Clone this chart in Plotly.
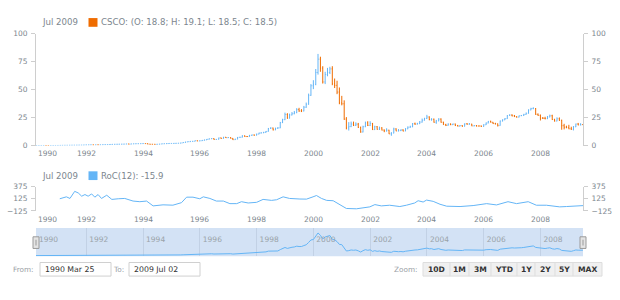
import pandas as pd
import plotly.graph_objects as go

# ---------------- data ----------------
dates = pd.date_range("1990-03-01", "2009-07-01", freq="MS")

opens = [
    0.07, 0.08, 0.09, 0.10, 0.11, 0.12, 0.10, 0.09, 0.10, 0.12,
    0.13, 0.15, 0.20, 0.25, 0.27, 0.30, 0.33, 0.36, 0.38, 0.40, 0.44, 0.46,
    0.55, 0.62, 0.66, 0.70, 0.65, 0.72, 0.70, 0.78, 0.85, 0.90, 0.95, 1.05,
    1.15, 1.20, 1.25, 1.30, 1.35, 1.40, 1.50, 1.35, 1.55, 1.65, 1.70, 1.75,
    1.80, 1.85, 1.80, 1.35, 1.25, 1.20, 1.15, 1.25, 1.45, 1.60, 1.75, 1.85,
    1.95, 1.95, 2.05, 2.10, 2.20, 2.40, 2.80, 3.30, 3.50, 3.80, 3.90, 4.40,
    4.15, 4.30, 4.70, 5.10, 5.70, 6.10, 6.30, 5.50, 5.60, 6.90, 6.40, 7.50,
    7.07, 7.20, 6.50, 5.30, 5.80, 7.40, 7.45, 8.80, 8.10, 8.10, 9.10, 9.50,
    9.30, 10.3, 11.2, 11.4, 11.8, 12.7, 15.3, 15.7, 14.1, 15.5, 15.8, 20.5,
    23.2, 27.8, 24.6, 27.4, 28.5, 29.5, 32.2, 31.0, 31.0, 34.3, 37.0, 45.0,
    53.5, 54.8, 65.4, 77.3, 69.3, 56.9, 63.6, 65.4, 68.6, 55.3, 53.9, 47.9,
    38.2, 37.4, 23.7, 15.8, 17.0, 19.3, 18.2, 19.2, 16.3, 12.2, 16.9, 20.3,
    18.1, 19.8, 14.3, 16.9, 14.6, 15.8, 13.9, 13.2, 13.8, 10.5, 11.2, 14.9,
    13.1, 13.4, 14.0, 13.0, 15.0, 16.4, 16.8, 19.5, 19.2, 19.6, 21.0, 22.7,
    24.2, 25.6, 23.2, 23.6, 20.9, 22.1, 23.7, 20.9, 18.8, 18.1, 19.2, 18.7,
    19.3, 17.9, 17.4, 17.9, 17.3, 19.4, 19.1, 19.2, 17.6, 17.9, 17.5, 17.5,
    17.1, 18.6, 20.2, 21.7, 20.9, 19.7, 19.5, 17.9, 22.0, 23.0, 24.1, 26.9,
    27.3, 26.6, 25.9, 25.5, 26.7, 26.9, 27.9, 28.9, 31.9, 33.1, 33.1, 28.0,
    27.1, 24.5, 24.4, 24.1, 25.6, 26.7, 23.3, 22.0, 24.0, 22.6, 17.8, 16.5,
    16.3, 15.0, 14.6, 16.8, 19.3, 18.5, 18.8,
]
highs = [
    0.09, 0.10, 0.11, 0.12, 0.13, 0.13, 0.11, 0.11, 0.13, 0.14,
    0.16, 0.21, 0.27, 0.29, 0.32, 0.35, 0.38, 0.40, 0.43, 0.46, 0.49, 0.57,
    0.66, 0.70, 0.74, 0.73, 0.75, 0.76, 0.80, 0.88, 0.93, 0.98, 1.09, 1.19,
    1.26, 1.31, 1.36, 1.40, 1.46, 1.56, 1.54, 1.60, 1.71, 1.76, 1.82, 1.86,
    1.92, 1.95, 1.86, 1.42, 1.31, 1.26, 1.30, 1.50, 1.66, 1.81, 1.92, 2.02,
    2.05, 2.14, 2.20, 2.30, 2.50, 2.92, 3.44, 3.66, 3.95, 4.10, 4.55, 4.50,
    4.50, 4.90, 5.35, 5.95, 6.35, 6.60, 6.55, 5.90, 7.15, 7.20, 7.80, 7.75,
    7.60, 7.45, 6.75, 6.10, 7.70, 7.90, 9.20, 9.10, 8.60, 9.60, 9.90, 9.90,
    10.7, 11.6, 11.9, 12.3, 13.1, 15.8, 16.4, 16.1, 16.0, 16.5, 21.2, 24.0,
    29.5, 29.0, 28.6, 30.0, 31.0, 33.5, 33.8, 32.6, 35.5, 38.5, 46.5, 55.0,
    58.5, 68.5, 82.0, 79.5, 71.0, 66.0, 69.5, 70.5, 71.0, 60.0, 58.0, 52.0,
    44.5, 40.5, 25.5, 21.0, 21.5, 21.5, 20.8, 20.3, 17.0, 17.8, 21.5, 21.8,
    21.8, 20.3, 17.8, 17.5, 17.0, 16.5, 14.5, 15.5, 14.2, 12.0, 16.0, 15.5,
    14.8, 14.6, 14.6, 15.6, 17.2, 17.8, 20.2, 20.6, 20.4, 22.0, 24.2, 24.9,
    27.5, 26.2, 24.5, 24.2, 23.0, 24.5, 24.4, 21.4, 19.5, 19.9, 19.9, 19.7,
    19.7, 18.5, 18.3, 18.2, 19.9, 20.2, 20.2, 19.5, 18.3, 18.4, 18.1, 18.0,
    19.1, 20.7, 22.0, 22.3, 21.2, 20.4, 19.7, 22.4, 23.5, 24.6, 27.2, 28.0,
    28.0, 27.4, 26.2, 26.9, 27.4, 28.4, 29.6, 32.4, 33.8, 34.3, 33.6, 28.8,
    27.8, 25.6, 25.8, 26.5, 27.7, 27.6, 24.0, 25.3, 25.2, 23.2, 19.5, 17.8,
    18.6, 16.9, 17.5, 19.7, 20.3, 20.0, 19.1,
]
lows = [
    0.07, 0.08, 0.09, 0.10, 0.11, 0.10, 0.08, 0.09, 0.10, 0.12,
    0.13, 0.15, 0.19, 0.24, 0.26, 0.29, 0.32, 0.35, 0.37, 0.39, 0.43, 0.45,
    0.54, 0.60, 0.64, 0.63, 0.63, 0.68, 0.69, 0.76, 0.83, 0.88, 0.93, 1.03,
    1.13, 1.18, 1.22, 1.27, 1.33, 1.38, 1.31, 1.33, 1.52, 1.61, 1.67, 1.72,
    1.76, 1.73, 1.30, 1.21, 1.16, 1.11, 1.12, 1.22, 1.42, 1.57, 1.42, 1.82,
    1.86, 1.91, 2.01, 2.06, 2.16, 2.36, 2.75, 3.22, 3.44, 3.73, 3.86, 4.02,
    4.05, 4.22, 4.62, 5.02, 5.60, 6.00, 5.30, 5.35, 5.52, 6.20, 6.30, 6.90,
    6.90, 6.35, 5.10, 5.15, 5.70, 7.20, 7.30, 7.90, 7.80, 7.90, 8.90, 9.00,
    9.10, 10.1, 11.0, 11.2, 11.6, 12.5, 15.0, 13.6, 13.8, 15.1, 15.6, 20.2,
    22.8, 24.0, 24.2, 27.0, 28.0, 29.0, 30.2, 30.0, 30.6, 33.8, 36.6, 44.5,
    50.5, 54.0, 63.5, 66.0, 55.5, 55.0, 62.0, 64.0, 54.0, 51.5, 46.0, 37.0,
    36.0, 23.0, 14.5, 13.5, 16.5, 17.5, 17.5, 15.8, 11.5, 11.8, 16.5, 17.5,
    17.5, 14.0, 14.0, 14.2, 14.0, 13.6, 12.0, 12.5, 10.3, 8.8, 11.0, 12.9,
    12.7, 13.0, 12.8, 12.9, 14.7, 16.0, 16.5, 18.7, 18.9, 19.3, 20.6, 22.4,
    23.8, 22.7, 22.3, 20.5, 19.5, 21.8, 20.5, 18.6, 17.5, 17.8, 18.3, 18.4,
    17.6, 17.2, 17.1, 16.9, 17.1, 18.9, 18.8, 17.4, 17.3, 17.1, 17.2, 16.9,
    16.9, 18.4, 19.9, 20.6, 19.4, 18.9, 17.1, 17.8, 21.6, 22.8, 23.9, 26.7,
    26.2, 25.6, 25.1, 25.2, 26.4, 26.6, 27.6, 28.6, 31.6, 32.6, 27.5, 26.6,
    22.5, 23.9, 23.5, 23.7, 25.3, 23.0, 21.5, 21.7, 22.1, 14.2, 14.5, 15.5,
    14.7, 14.1, 13.6, 16.6, 18.2, 18.2, 18.5,
]
closes = [
    0.08, 0.09, 0.10, 0.11, 0.12, 0.10, 0.09, 0.10, 0.12, 0.13,
    0.15, 0.20, 0.25, 0.27, 0.30, 0.33, 0.36, 0.38, 0.40, 0.44, 0.46, 0.55,
    0.62, 0.66, 0.70, 0.65, 0.72, 0.70, 0.78, 0.85, 0.90, 0.95, 1.05, 1.15,
    1.20, 1.25, 1.30, 1.35, 1.40, 1.50, 1.35, 1.55, 1.65, 1.70, 1.75, 1.80,
    1.85, 1.80, 1.35, 1.25, 1.20, 1.15, 1.25, 1.45, 1.60, 1.75, 1.85, 1.95,
    1.95, 2.05, 2.10, 2.20, 2.40, 2.80, 3.30, 3.50, 3.80, 3.90, 4.40, 4.15,
    4.30, 4.70, 5.10, 5.70, 6.10, 6.30, 5.50, 5.60, 6.90, 6.40, 7.50, 7.07,
    7.20, 6.50, 5.30, 5.80, 7.40, 7.45, 8.80, 8.10, 8.10, 9.10, 9.50, 9.30,
    10.3, 11.2, 11.4, 11.8, 12.7, 15.3, 15.7, 14.1, 15.5, 15.8, 20.5, 23.2,
    27.8, 24.6, 27.4, 28.5, 29.5, 32.2, 31.0, 31.0, 34.3, 37.0, 45.0, 53.5,
    54.8, 65.4, 77.3, 69.3, 56.9, 63.6, 65.4, 68.6, 55.3, 53.9, 47.9, 38.2,
    37.4, 23.7, 15.8, 17.0, 19.3, 18.2, 19.2, 16.3, 12.2, 16.9, 20.3, 18.1,
    19.8, 14.3, 16.9, 14.6, 15.8, 13.9, 13.2, 13.8, 10.5, 11.2, 14.9, 13.1,
    13.4, 14.0, 13.0, 15.0, 16.4, 16.8, 19.5, 19.2, 19.6, 21.0, 22.7, 24.2,
    25.6, 23.2, 23.6, 20.9, 22.1, 23.7, 20.9, 18.8, 18.1, 19.2, 18.7, 19.3,
    17.9, 17.4, 17.9, 17.3, 19.4, 19.1, 19.2, 17.6, 17.9, 17.5, 17.5, 17.1,
    18.6, 20.2, 21.7, 20.9, 19.7, 19.5, 17.9, 22.0, 23.0, 24.1, 26.9, 27.3,
    26.6, 25.9, 25.5, 26.7, 26.9, 27.9, 28.9, 31.9, 33.1, 33.1, 28.0, 27.1,
    24.5, 24.4, 24.1, 25.6, 26.7, 23.3, 22.0, 24.0, 22.6, 17.8, 16.5, 16.3,
    15.0, 14.6, 16.8, 19.3, 18.5, 18.6, 18.5,
]

roc_dates = [
    "1991-01-25", "1991-04-01", "1991-04-20", "1991-06-05", "1991-08-05", "1991-09-20",
    "1991-11-03", "1991-12-15", "1992-01-25", "1992-03-10", "1992-04-20", "1992-06-01",
    "1992-07-15", "1992-09-20", "1992-11-25", "1993-02-15", "1993-05-10", "1993-08-25",
    "1993-11-20", "1994-02-15", "1994-05-10", "1994-09-15", "1995-01-20", "1995-05-10",
    "1995-07-15", "1995-10-05", "1996-01-01", "1996-02-15", "1996-05-10", "1996-08-01",
    "1996-10-30", "1997-01-22", "1997-04-20", "1997-06-20", "1997-09-15", "1998-01-01",
    "1998-03-25", "1998-07-12", "1998-09-15", "1998-12-08", "1999-03-01", "1999-07-12",
    "1999-10-05", "1999-12-28", "2000-02-10", "2000-04-15", "2000-06-20", "2000-09-12",
    "2000-12-05", "2001-03-01", "2001-07-08", "2001-10-01", "2001-12-28", "2002-03-03",
    "2002-05-25", "2002-09-08", "2003-01-18", "2003-04-12", "2003-07-28", "2003-09-10",
    "2003-11-14", "2003-12-28", "2004-03-22", "2004-06-18", "2004-09-12", "2005-03-03",
    "2005-08-18", "2006-02-08", "2006-06-15", "2006-11-10", "2007-02-28", "2007-07-28",
    "2007-11-10", "2008-03-18", "2008-09-05", "2008-12-01", "2009-07-02",
]
roc_values = [
    125, 145, 165, 132, 278, 245,
    178, 212, 178, 225, 158, 212,
    132, 198, 112, 125, 132, 78,
    65, 78, -22, 0, -7, 45,
    158, 158, 125, 165, 132, 78,
    78, 25, 25, 65, 38, 52,
    112, 92, 105, 165, 132, 120,
    118, 165, 192, 132, 92, 85,
    -2, -75, -82, -68, -42, 5,
    -22, -8, -35, -8, 38, 85,
    58, 98, 72, 12, -28, -35,
    -15, 25, -2, 65, 25, 65,
    -8, -8, -42, -35, -15.9,
]

year_ticks = ["1992-01-01", "1994-01-01", "1996-01-01", "1998-01-01", "2000-01-01",
              "2002-01-01", "2004-01-01", "2006-01-01", "2008-01-01"]
year_labels = ["1992", "1994", "1996", "1998", "2000", "2002", "2004", "2006", "2008"]
first_year_label = "1990"
price_ticks = [0, 25, 50, 75, 100]
roc_ticks = [-125, 125, 375]
range_start, range_end = "1990-03-25", "2009-07-02"
legend_date = "Jul 2009"
price_legend = "CSCO: (O: 18.8; H: 19.1; L: 18.5; C: 18.5)"
roc_legend = "RoC(12): -15.9"
from_text, to_text = "1990 Mar 25", "2009 Jul 02"
zoom_buttons = ["10D", "1M", "3M", "YTD", "1Y", "2Y", "5Y", "MAX"]

# ---------------- styling / layout helpers ----------------
W, H = 620, 300
BLUE = "#64b5f6"
ORANGE = "#ef6c00"
GRAY = "#7c868e"
LINE = "#cecece"
FONT = "DejaVu Sans"


def px(x):
    return x / W


def py(y):
    return 1 - y / H


L, R = 36, 583
xdom = [px(L), px(R)]

fig = go.Figure()

fig.add_trace(go.Ohlc(
    x=dates, open=opens, high=highs, low=lows, close=closes,
    xaxis="x", yaxis="y",
    increasing=dict(line=dict(color=BLUE, width=1)),
    decreasing=dict(line=dict(color=ORANGE, width=1)),
    tickwidth=0.3, showlegend=False, hoverinfo="skip",
))
fig.add_trace(go.Scatter(x=dates, y=closes, xaxis="x", yaxis="y2", mode="lines",
                         line=dict(width=0), opacity=0, showlegend=False, hoverinfo="skip"))
fig.add_trace(go.Scatter(x=roc_dates, y=roc_values, xaxis="x2", yaxis="y3", mode="lines",
                         line=dict(color=BLUE, width=1), showlegend=False, hoverinfo="skip"))
fig.add_trace(go.Scatter(x=roc_dates, y=roc_values, xaxis="x2", yaxis="y4", mode="lines",
                         line=dict(width=0), opacity=0, showlegend=False, hoverinfo="skip"))
fig.add_trace(go.Scatter(x=dates, y=closes, xaxis="x3", yaxis="y5", mode="lines",
                         line=dict(color=BLUE, width=1), showlegend=False, hoverinfo="skip"))

tickfont = dict(family=FONT, size=7.5, color=GRAY)

common_x = dict(domain=xdom, range=[range_start, range_end], type="date",
                showticklabels=False, showgrid=False,
                zeroline=False, showline=False, ticks="", fixedrange=True)

ydom_main = [py(146), py(30.7)]
ydom_roc = [py(213.3), py(188.3)]
ydom_scr = [py(260), py(231)]

common_y = dict(showgrid=False, zeroline=False, showline=True, linecolor=LINE,
                linewidth=1, ticks="outside", ticklen=4, tickcolor=LINE,
                tickfont=tickfont, fixedrange=True, ticklabelstandoff=2)

fig.update_layout(
    width=W, height=H, margin=dict(l=0, r=0, t=0, b=0),
    paper_bgcolor="white", plot_bgcolor="rgba(0,0,0,0)",
    font=dict(family=FONT, color=GRAY),
    showlegend=False,
    xaxis=dict(common_x, anchor="y", rangeslider=dict(visible=False)),
    yaxis=dict(common_y, domain=ydom_main, range=[0, 100], tickvals=price_ticks, anchor="x"),
    yaxis2=dict(common_y, domain=ydom_main, range=[0, 100], tickvals=price_ticks,
                overlaying="y", side="right", anchor="x"),
    xaxis2=dict(common_x, anchor="y3"),
    yaxis3=dict(common_y, domain=ydom_roc, range=[-125, 375], tickvals=roc_ticks, anchor="x2"),
    yaxis4=dict(common_y, domain=ydom_roc, range=[-125, 375], tickvals=roc_ticks,
                overlaying="y3", side="right", anchor="x2"),
    xaxis3=dict(domain=xdom, range=[range_start, range_end], type="date", anchor="y5",
                side="top", ticklabelposition="inside right",
                ticklabelstandoff=3, ticklabelshift=3,
                tickvals=[range_start] + year_ticks, ticktext=[first_year_label] + year_labels,
                showgrid=True, gridcolor="#c2d1e5", gridwidth=1, ticks="",
                showline=False, zeroline=False, fixedrange=True,
                tickfont=dict(family=FONT, size=7.5, color="#9aa2a9")),
    yaxis5=dict(domain=ydom_scr, range=[-2, 94], visible=False, fixedrange=True, anchor="x3"),
)

shapes = []
annotations = []

# scroller background
shapes.append(dict(type="rect", xref="x3 domain", yref="y5 domain", x0=0, x1=1, y0=0, y1=1,
                   fillcolor="#d3e2f5", line=dict(width=0), layer="below"))
# scroller handles
for hx in (L, R):
    shapes.append(dict(type="rect", xref="paper", yref="paper",
                       x0=px(hx - 3), x1=px(hx + 3), y0=py(252), y1=py(240),
                       fillcolor="#e4e4e4", line=dict(color="#9a9a9a", width=1), layer="above"))
    shapes.append(dict(type="line", xref="paper", yref="paper",
                       x0=px(hx), x1=px(hx), y0=py(249), y1=py(243),
                       line=dict(color="#9a9a9a", width=1)))

# date-axis labels of the price and RoC panels
for xref, ylab in (("x", 154.3), ("x2", 221.7)):
    # the 1990 tick lies left of the visible range; its label is pinned at the left edge
    annotations.append(dict(x=px(47), y=py(ylab), xref="paper", yref="paper",
                            text=first_year_label, showarrow=False, xanchor="center",
                            yanchor="middle", font=tickfont))
    for tv, tl in zip(year_ticks, year_labels):
        annotations.append(dict(x=tv, y=py(ylab), xref=xref, yref="paper", text=tl,
                                showarrow=False, xanchor="center", yanchor="middle",
                                font=tickfont))

# legends
def legend(y, color, text):
    annotations.append(dict(x=px(40), y=py(y), xref="paper", yref="paper", text=legend_date,
                            showarrow=False, xanchor="left", yanchor="middle",
                            font=dict(family=FONT, size=8.6, color=GRAY)))
    shapes.append(dict(type="rect", xref="paper", yref="paper", x0=px(88.5), x1=px(97.5),
                       y0=py(y + 4.5), y1=py(y - 4.5), fillcolor=color, line=dict(width=0)))
    annotations.append(dict(x=px(99), y=py(y), xref="paper", yref="paper", text=text,
                            showarrow=False, xanchor="left", yanchor="middle",
                            font=dict(family=FONT, size=8.6, color=GRAY)))


legend(19, ORANGE, price_legend)
legend(177, BLUE, roc_legend)

# date inputs
ctrl_y = 273.5
annotations.append(dict(x=px(36), y=py(ctrl_y), xref="paper", yref="paper", text="From:",
                        showarrow=False, xanchor="right", yanchor="middle",
                        font=dict(family=FONT, size=7.3, color="#9aa0a6")))
annotations.append(dict(x=px(126), y=py(ctrl_y), xref="paper", yref="paper", text="To:",
                        showarrow=False, xanchor="right", yanchor="middle",
                        font=dict(family=FONT, size=7.3, color="#9aa0a6")))
for (bx0, bx1, txt) in ((40, 111, from_text), (129, 200, to_text)):
    shapes.append(dict(type="rect", xref="paper", yref="paper", x0=px(bx0), x1=px(bx1),
                       y0=py(280.5), y1=py(266.5), fillcolor="white",
                       line=dict(color="#d0d0d0", width=1)))
    annotations.append(dict(x=px(bx0 + 3), y=py(ctrl_y), xref="paper", yref="paper", text=txt,
                            showarrow=False, xanchor="left", yanchor="middle",
                            font=dict(family=FONT, size=7.8, color="#333333")))

# zoom buttons
annotations.append(dict(x=px(420), y=py(ctrl_y), xref="paper", yref="paper", text="Zoom:",
                        showarrow=False, xanchor="right", yanchor="middle",
                        font=dict(family=FONT, size=7.3, color="#9aa0a6")))
edges = [423, 450, 469, 491, 517, 535, 555, 573, 602]
shapes.append(dict(type="rect", xref="paper", yref="paper", x0=px(edges[0]), x1=px(edges[-1]),
                   y0=py(280.5), y1=py(266.5), fillcolor="#f0f0f0",
                   line=dict(color="#dddddd", width=1)))
for i, b in enumerate(zoom_buttons):
    if i > 0:
        shapes.append(dict(type="line", xref="paper", yref="paper", x0=px(edges[i]),
                           x1=px(edges[i]), y0=py(280.5), y1=py(266.5),
                           line=dict(color="#dddddd", width=1)))
    annotations.append(dict(x=px((edges[i] + edges[i + 1]) / 2), y=py(ctrl_y), xref="paper",
                            yref="paper", text="<b>%s</b>" % b, showarrow=False,
                            xanchor="center", yanchor="middle",
                            font=dict(family=FONT, size=7.6, color="#333333")))

fig.update_layout(shapes=shapes, annotations=annotations)
fig.write_html("out.html", config={"displayModeBar": False})
